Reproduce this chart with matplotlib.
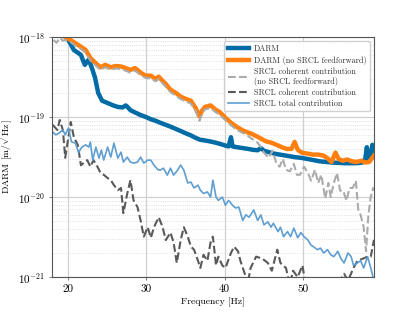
import matplotlib
matplotlib.use('Agg')
import matplotlib.pyplot as plt
import numpy as np

# amplitudes in units of 1e-20 m/rtHz
darm_f = [18.0, 19.0, 20.0, 20.3, 20.8, 21.7, 22.0, 22.2, 22.5, 22.7, 23.1, 23.5, 23.9, 24.4, 25.1, 25.8,
          26.4, 27.0, 27.4, 27.6, 28.0, 28.7, 29.3, 30.0, 30.6, 31.2, 31.8, 32.5, 33.1, 33.8, 34.4,
          35.0, 35.7, 36.3, 36.9, 37.5, 38.2, 38.8, 39.5, 40.1, 40.5, 40.8, 41.0, 41.6, 42.3, 43.0,
          43.6, 44.2, 44.6, 45.0, 45.8, 46.6, 47.4, 48.2, 49.0, 49.7, 50.5, 51.3, 52.1, 52.9, 53.7,
          54.5, 55.3, 56.1, 56.9, 57.5, 57.9, 58.1, 58.3, 58.6, 58.8, 59.0]
darm = [130, 115, 95, 85, 69, 60, 50, 45, 50, 52, 41, 31, 20, 16, 15, 14,
        13.4, 13.2, 14, 13.5, 12.2, 11.3, 10.6, 10, 9.4, 9.0, 8.5, 8.0, 7.6, 7.1, 6.7,
        6.3, 5.9, 5.5, 5.2, 5.1, 4.95, 4.8, 4.6, 4.4, 4.3, 5.6, 4.3, 4.2, 4.1, 4.0,
        3.9, 3.85, 4.1, 3.8, 3.6, 3.45, 3.35, 3.25, 3.15, 3.1, 3.0, 2.9, 2.8, 2.75, 2.7,
        2.68, 2.65, 2.65, 2.66, 2.7, 3.0, 4.2, 2.9, 3.3, 4.5, 3.6]

nff_f = [18.0, 18.6, 19.2, 19.7, 20.3, 21.0, 21.6, 22.3, 22.9, 23.6, 24.2, 24.8, 25.5, 26.1, 26.8,
         27.4, 28.0, 28.6, 29.3, 29.9, 30.6, 31.2, 31.6, 32.0, 32.5, 33.1, 33.8, 34.4, 35.0, 35.7,
         36.3, 36.8, 37.1, 37.5, 38.2, 38.8, 39.4, 40.0, 40.8, 41.5, 42.2, 42.8, 43.4, 44.0, 44.6,
         45.2, 45.9, 46.6, 47.3, 47.9, 48.5, 48.9, 49.3, 49.8, 50.5, 51.2, 51.9, 52.6, 53.2, 53.6,
         54.1, 54.5, 55.0, 55.6, 56.2, 56.8, 57.4, 57.9, 58.4, 59.0]
darm_nff = [130, 120, 112, 100, 93, 84, 77, 69, 55, 47, 42, 45, 42, 43.5, 43,
            41, 39, 41, 36, 33, 33, 30, 32, 29, 26, 22, 20, 18, 17, 16,
            13, 10.2, 12, 13.4, 14, 12.5, 11.5, 10, 8.5, 7.6, 6.9, 6.5, 6.2, 5.8, 5.4,
            5.0, 4.8, 4.5, 4.2, 4.0, 4.0, 4.9, 3.9, 3.6, 3.5, 3.4, 3.4, 3.3, 3.0, 2.75,
            3.6, 3.0, 2.85, 2.95, 2.8, 2.75, 2.85, 2.7, 2.75, 3.3]

coh_nff_f = [18.2, 18.6, 19.0, 19.4, 19.7, 20.3, 21.0, 21.6, 22.3, 22.9, 23.6, 24.2, 24.8, 25.5, 26.1,
             26.8, 27.4, 28.0, 28.6, 29.3, 29.9, 30.6, 31.2, 31.6, 32.0, 32.5, 33.1, 33.8, 34.4, 35.0,
             35.7, 36.3, 36.8, 37.1, 37.5, 38.2, 38.8, 39.4, 40.0, 40.8, 41.5, 42.2, 42.8, 43.4, 44.0,
             44.5, 45.0, 45.6, 46.1, 46.6, 47.0, 47.4, 47.8, 48.3, 48.8, 49.2, 49.6, 50.1, 50.6, 51.0,
             51.5, 51.9, 52.3, 52.8, 53.2, 53.5, 53.9, 54.3, 54.7, 55.1, 55.5, 55.9, 56.3, 56.7, 57.0,
             57.3, 57.7, 58.0, 58.3, 58.6, 58.9, 59.0]
coh_nff = [92, 85, 98, 90, 92, 88, 78, 72, 64, 51, 44, 39, 42, 39, 40.5,
           40, 38, 36, 38, 33.5, 31, 30.5, 28, 30, 27, 24, 20.5, 18.5, 16.8, 15.8,
           14.8, 12, 9.0, 11, 12.5, 13, 11.6, 10.7, 9.3, 7.9, 7.0, 6.4, 6.0, 5.4, 5.0,
           4.4, 3.6, 3.1, 3.8, 2.6, 2.4, 3.0, 2.2, 2.1, 2.6, 1.9, 1.9, 2.4, 2.0, 1.6,
           2.2, 1.5, 1.9, 0.96, 1.5, 1.0, 1.5, 2.0, 1.2, 1.2, 0.9, 1.3, 1.3, 1.6, 0.7,
           0.6, 0.42, 0.21, 0.6, 1.0, 1.3, 1.2]

coh_f = [18.1, 18.7, 19.0, 19.4, 19.7, 20.1, 20.4, 20.8, 21.3, 21.7, 22.0, 22.5, 22.9, 23.3, 23.8,
         24.2, 24.6, 25.1, 25.5, 25.9, 26.4, 26.8, 27.1, 27.6, 28.0, 28.4, 28.9, 29.3, 29.7, 30.2,
         30.6, 31.0, 31.6, 32.1, 32.5, 33.1, 33.5, 33.9, 34.4, 34.8, 35.3, 35.7, 36.1, 36.6, 36.9,
         37.3, 37.8, 38.2, 38.5, 38.9, 39.2, 39.7, 40.1, 40.8, 41.2, 41.7, 42.0, 42.7, 42.9, 43.3,
         44.0, 44.8, 45.5, 46.0, 46.7, 47.1, 47.8, 48.3, 48.7, 49.3, 49.9, 50.3, 51.0, 52.0, 53.0,
         54.0, 55.2, 55.7, 56.4, 56.9, 57.6, 58.2, 58.6, 59.0]
coh = [8.0, 6.9, 9.2, 6.9, 3.1, 5.6, 8.7, 5.6, 4.5, 2.5, 2.65, 2.9, 2.4, 2.9, 2.4,
       2.0, 1.9, 1.73, 1.63, 1.41, 1.22, 1.30, 0.63, 1.11, 1.63, 0.91, 0.75, 0.51, 0.32, 0.42,
       0.31, 0.42, 0.56, 0.42, 0.29, 0.36, 0.27, 0.15, 0.29, 0.42, 0.32, 0.24, 0.22, 0.16, 0.13,
       0.19, 0.16, 0.27, 0.32, 0.14, 0.18, 0.14, 0.13, 0.20, 0.24, 0.21, 0.16, 0.10, 0.08, 0.13,
       0.18, 0.17, 0.15, 0.12, 0.22, 0.15, 0.13, 0.08, 0.12, 0.10, 0.14, 0.08, 0.06, 0.07, 0.06,
       0.07, 0.11, 0.09, 0.13, 0.16, 0.17, 0.18, 0.18, 0.29]

tot_f = [18.1, 18.5, 18.9, 19.4, 19.7, 20.1, 20.5, 21.0, 21.4, 21.8, 22.3, 22.7, 22.9, 23.2, 23.6,
         24.0, 24.3, 24.6, 25.1, 25.5, 25.9, 26.4, 26.8, 27.1, 27.6, 28.0, 28.4, 28.9, 29.3, 29.7,
         30.2, 30.6, 31.0, 31.5, 31.8, 32.2, 32.7, 33.1, 33.5, 34.0, 34.4, 34.8, 35.3, 35.7, 36.1,
         36.6, 36.9, 37.3, 37.8, 38.2, 38.5, 38.9, 39.2, 39.7, 40.1, 40.5, 41.0, 41.4, 41.8, 42.3,
         42.7, 43.1, 43.3, 43.7, 44.2, 44.6, 45.0, 45.5, 45.9, 46.2, 46.8, 47.1, 47.5, 48.0, 48.4,
         48.8, 49.3, 49.7, 50.1, 50.6, 51.0, 51.3, 51.8, 52.2, 52.6, 53.1, 53.5, 53.9, 54.4, 54.8,
         55.2, 55.7, 56.1, 56.4, 56.9, 57.3, 57.7, 58.2, 58.6, 59.0]
tot = [6.5, 6.0, 6.3, 6.9, 6.0, 7.3, 4.9, 4.73, 3.6, 4.2, 4.5, 4.22, 4.87, 2.9, 4.22,
       3.07, 3.87, 2.9, 4.22, 3.16, 4.73, 3.07, 3.65, 2.74, 3.16, 2.74, 2.66, 2.74, 3.16, 2.66,
       2.90, 2.9, 2.5, 2.2, 2.17, 2.3, 1.88, 2.3, 1.88, 2.17, 2.51, 2.17, 1.50, 1.54, 1.30,
       1.41, 1.22, 1.11, 1.16, 1.0, 1.63, 1.0, 0.91, 1.0, 0.79, 0.91, 0.79, 0.73, 0.75, 0.51,
       0.60, 0.56, 0.60, 0.69, 0.51, 0.60, 0.45, 0.49, 0.42, 0.47, 0.37, 0.42, 0.32, 0.37, 0.32,
       0.41, 0.31, 0.36, 0.32, 0.29, 0.25, 0.24, 0.22, 0.23, 0.20, 0.22, 0.19, 0.18, 0.21, 0.17,
       0.15, 0.20, 0.18, 0.14, 0.15, 0.16, 0.13, 0.18, 0.13, 0.09]

xticks = [20, 30, 40, 50]

plt.rcParams.update({
    'font.family': 'serif',
    'font.serif': ['cmr10'],
    'mathtext.fontset': 'cm',
    'axes.formatter.use_mathtext': True,
    'axes.unicode_minus': False,
})

colors = ['#006BA4', '#FF800E', '#ABABAB', '#595959', '#5F9ED1']
scale = 1e-20

fig = plt.figure(figsize=(4.15, 3.12), dpi=100)
ax = fig.add_axes([0.125, 0.112, 0.776, 0.769])

ax.plot(darm_f, np.array(darm) * scale, color=colors[0], lw=3.2, label='DARM')
ax.plot(nff_f, np.array(darm_nff) * scale, color=colors[1], lw=3.2, label='DARM (no SRCL feedforward)')
ax.plot(coh_nff_f, np.array(coh_nff) * scale, color=colors[2], lw=1.5, ls='--',
        label='SRCL coherent contribution\n(no SRCL feedforward)')
ax.plot(coh_f, np.array(coh) * scale, color=colors[3], lw=1.5, ls='--', label='SRCL coherent contribution')
ax.plot(tot_f, np.array(tot) * scale, color=colors[4], lw=1.2, label='SRCL total contribution')

ax.set_yscale('log')
ax.set_xlim(18, 59)
ax.set_ylim(1e-21, 1e-18)
ax.set_xticks(xticks)
ax.set_xticklabels([str(t) for t in xticks])
ax.tick_params(labelsize=8, length=2.5, width=0.6, color='#666666', pad=2.5)
ax.tick_params(which='minor', length=0)

ax.grid(True, which='major', color='#d0d0d0', lw=0.9, ls='-')
ax.grid(True, which='minor', axis='y', color='#d8d8d8', lw=0.6, ls=':')
ax.set_axisbelow(True)
for s in ax.spines.values():
    s.set_color('#555555')
    s.set_linewidth(0.8)

ax.set_xlabel('Frequency [Hz]', fontsize=7, labelpad=3)
ax.set_ylabel(r'DARM [m/$\sqrt{\rm Hz}$]', fontsize=7, labelpad=3)

leg = ax.legend(loc='upper right', fontsize=5.9, framealpha=0.9, edgecolor='#cccccc',
                handlelength=2.6, borderpad=0.45, labelspacing=0.3, handletextpad=0.5)
for t in leg.get_texts():
    t.set_color('#333333')

fig.savefig('out.png', dpi=100)
